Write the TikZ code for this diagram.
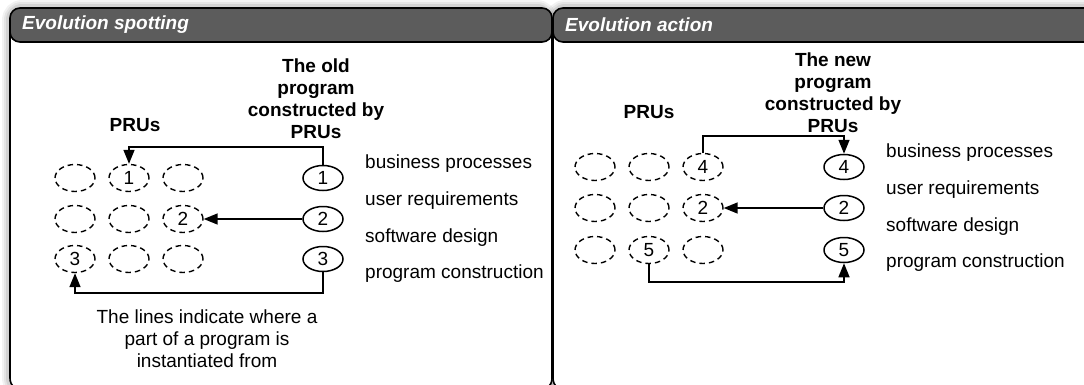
\documentclass[tikz,border=0pt]{standalone}
\usepackage{fontspec}
\setmainfont{Liberation Sans}
\usetikzlibrary{shapes.geometric,arrows.meta}
\definecolor{headgray}{RGB}{92,92,92}
\tikzset{
  txt/.style={font=\fontsize{19}{22}\selectfont},
  prubox/.style={ellipse, draw, line width=1.4pt, dash pattern=on 5.5pt off 4pt,
    minimum width=40pt, minimum height=27pt, inner sep=0pt, txt},
  progbox/.style={ellipse, draw, line width=1.5pt,
    minimum width=40pt, minimum height=25pt, inner sep=0pt, txt},
  conn/.style={line width=1.5pt, -{Triangle[length=14pt,width=11pt]}},
  lbl/.style={anchor=west, inner sep=0pt, txt},
  heading/.style={align=center, inner sep=0pt, font=\fontsize{19}{22}\selectfont\bfseries},
  captiontext/.style={align=center, inner sep=0pt, txt},
  ttl/.style={anchor=west, inner sep=0pt, text=white, font=\fontsize{19}{22}\selectfont\bfseries\itshape},
  panel/.style={draw, fill=white, line width=1.6pt, rounded corners=14pt},
  headbar/.style={draw, fill=headgray, line width=1.6pt, rounded corners=10pt},
}
\begin{document}
\begin{tikzpicture}[x=1pt,y=-1pt]
\useasboundingbox (0,0) rectangle (1084,384);
\clip (0,0) rectangle (1084,384);
% soft shadows
\foreach \w/\o in {12/0.05,8/0.06,4/0.08}{
  \draw[line width=\w pt, black, opacity=\o, rounded corners=14pt] (8,6) rectangle (551,392);
  \draw[line width=\w pt, black, opacity=\o, rounded corners=14pt] (551,6) rectangle (1110,392);
}
% panels
\draw[panel] (10,8) rectangle (552,392);
\draw[panel] (553,8) rectangle (1110,392);
\draw[headbar] (10,8) rectangle (552,42);
\draw[headbar] (553,8) rectangle (1110,42);
\node[ttl] (t1) at (22,25) {Evolution spotting};
\node[ttl] (t2) at (565,25) {Evolution action};

% ---------- left panel ----------
\node[heading] (h1) at (316,99) {The old\\program\\constructed by\\PRUs};
\node[heading] (p1) at (135,125) {PRUs};
\node[prubox] (a11) at (75,178) {};
\node[prubox] (a12) at (129,178) {1};
\node[prubox] (a13) at (183,178) {};
\node[prubox] (a21) at (75,219) {};
\node[prubox] (a22) at (129,219) {};
\node[prubox] (a23) at (183,219) {2};
\node[prubox] (a31) at (75,259) {3};
\node[prubox] (a32) at (129,259) {};
\node[prubox] (a33) at (183,259) {};
\node[progbox] (o1) at (323,178) {1};
\node[progbox] (o2) at (323,219) {2};
\node[progbox] (o3) at (323,259) {3};
\node[lbl] (l1) at (365,164) {business processes};
\node[lbl] (l2) at (365,201) {user requirements};
\node[lbl] (l3) at (365,238) {software design};
\node[lbl] (l4) at (365,274) {program construction};
\coordinate (ct1) at (323,147);
\coordinate (cb1) at (323,293);
\draw[conn] (o1.north) -- (ct1) -| (a12.north);
\draw[conn] (o2.west) -- (a23.east);
\draw[conn] (o3.south) -- (cb1) -| (a31.south);
\node[captiontext] (c1) at (207,339) {The lines indicate where a\\part of a program is\\instantiated from};

% ---------- right panel ----------
\node[heading] (h2) at (833,93) {The new\\program\\constructed by\\PRUs};
\node[heading] (p2) at (649,112) {PRUs};
\node[prubox] (b11) at (595,167) {};
\node[prubox] (b12) at (649,167) {};
\node[prubox] (b13) at (703,167) {4};
\node[prubox] (b21) at (595,208) {};
\node[prubox] (b22) at (649,208) {};
\node[prubox] (b23) at (703,208) {2};
\node[prubox] (b31) at (595,250) {};
\node[prubox] (b32) at (649,250) {5};
\node[prubox] (b33) at (703,250) {};
\node[progbox] (n1) at (844,167) {4};
\node[progbox] (n2) at (844,208) {2};
\node[progbox] (n3) at (844,250) {5};
\node[lbl] (r1) at (886,153) {business processes};
\node[lbl] (r2) at (886,190) {user requirements};
\node[lbl] (r3) at (886,227) {software design};
\node[lbl] (r4) at (886,263) {program construction};
\coordinate (ct2) at (703,136);
\coordinate (cb2) at (649,282);
\draw[conn] (b13.north) -- (ct2) -| (n1.north);
\draw[conn] (n2.west) -- (b23.east);
\draw[conn] (b32.south) -- (cb2) -| (n3.south);
\end{tikzpicture}
\end{document}
